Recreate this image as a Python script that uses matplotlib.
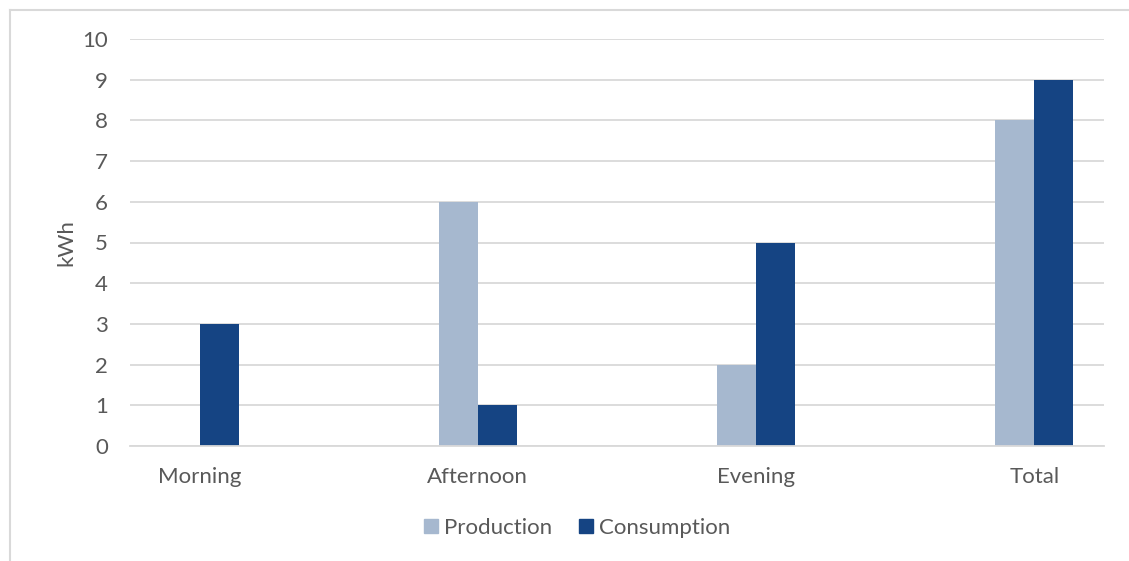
import matplotlib
matplotlib.use("Agg")
import matplotlib.pyplot as plt
from matplotlib.lines import Line2D
import numpy as np

categories = ["Morning", "Afternoon", "Evening", "Total"]
production = [0, 6, 2, 8]
consumption = [3, 1, 5, 9]
yticks = [0, 1, 2, 3, 4, 5, 6, 7, 8, 9, 10]

W, H = 1129, 561
fig = plt.figure(figsize=(W / 100, H / 100), dpi=100)
plt.rcParams['font.family'] = ['Lato', 'DejaVu Sans']
txt = "#595959"

# plot area: x 130..1104, y 39..446 (pixels from top)
ax = fig.add_axes([130 / W, 1 - 446 / H, (1104 - 130) / W, (446 - 39) / H])

x = np.arange(len(categories))
bw = 0.14
ax.bar(x - bw / 2, production, width=bw, color="#A6B8CF", zorder=2)
ax.bar(x + bw / 2, consumption, width=bw, color="#154483", zorder=2)

ax.set_xlim(-0.25, 3.25)
ax.set_ylim(0, 10)
ax.set_yticks(yticks)
ax.set_xticks(x)
ax.set_xticklabels(categories)
ax.yaxis.grid(True, color="#D9D9D9", linewidth=1.3, zorder=1)
ax.set_axisbelow(True)
for s in ["top", "right", "left"]:
    ax.spines[s].set_visible(False)
ax.spines["bottom"].set_color("#D9D9D9")
ax.spines["bottom"].set_linewidth(1.3)
ax.spines["bottom"].set_zorder(3)
ax.tick_params(axis="both", length=0, labelsize=16, colors=txt)
ax.tick_params(axis="y", pad=16)
ax.tick_params(axis="x", pad=15)
ax.set_ylabel("kWh", fontsize=16, color=txt, labelpad=4)

handles = [Line2D([], [], marker="s", linestyle="none", markersize=10.5, color="#A6B8CF"),
           Line2D([], [], marker="s", linestyle="none", markersize=10.5, color="#154483")]
fig.legend(handles, ["Production", "Consumption"], loc="center",
           bbox_to_anchor=(575 / W, 1 - 528 / H), ncol=2, frameon=False,
           fontsize=16, labelcolor=txt, handletextpad=0.1, columnspacing=1.0,
           handlelength=1.0)

# outer border (left and top visible)
fig.add_artist(Line2D([9.5 / W, 9.5 / W], [1 - 9.5 / H, 0], color="#D9D9D9", linewidth=1.5,
                      transform=fig.transFigure))
fig.add_artist(Line2D([9.5 / W, 1], [1 - 9.5 / H, 1 - 9.5 / H], color="#D9D9D9", linewidth=1.5,
                      transform=fig.transFigure))

fig.savefig("out.png", dpi=100)
